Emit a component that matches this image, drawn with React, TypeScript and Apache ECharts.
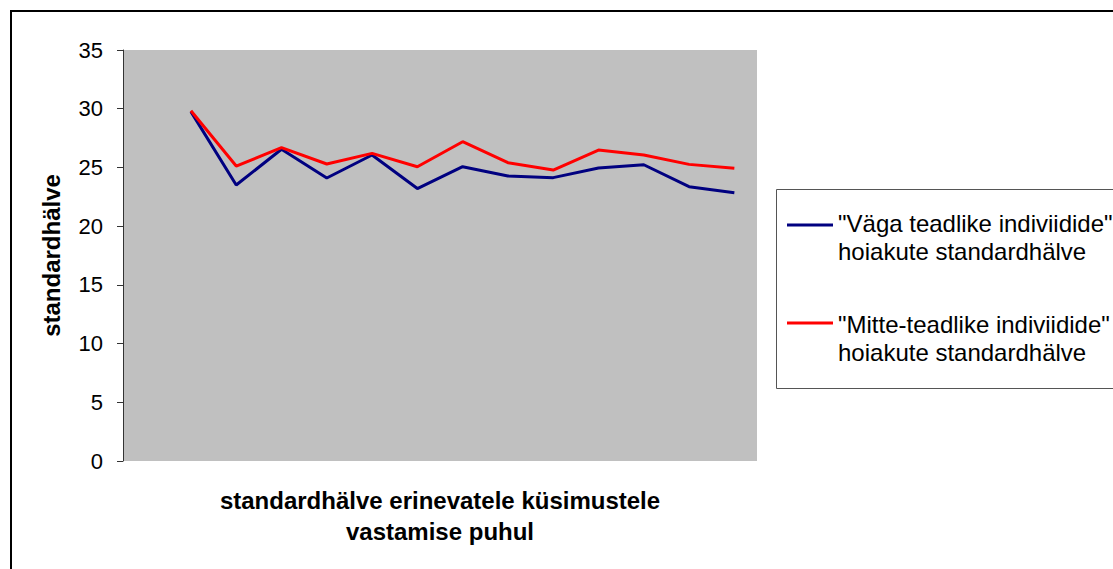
import React, { useEffect, useRef } from "react";
import * as echarts from "echarts";

const categories = ["", "1", "2", "3", "4", "5", "6", "7", "8", "9", "10", "11", "12", "13"];
const veryAwareSD = [null, 29.75, 23.5, 26.55, 24.1, 26.06, 23.2, 25.06, 24.27, 24.13, 24.95, 25.23, 23.36, 22.85];
const notAwareSD = [null, 29.83, 25.12, 26.68, 25.29, 26.2, 25.06, 27.19, 25.4, 24.78, 26.48, 26.06, 25.26, 24.92];
const seriesNames = [
  '"Väga teadlike indiviidide"\nhoiakute standardhälve',
  '"Mitte-teadlike indiviidide"\nhoiakute standardhälve',
];
const seriesColors = ["#000080", "#ff0000"];
const yAxisTitle = "standardhälve";
const xAxisTitle = "standardhälve erinevatele küsimustele\nvastamise puhul";

export default function App() {
  const ref = useRef<HTMLDivElement>(null);
  useEffect(() => {
    if (!ref.current) return;
    const chart = echarts.init(ref.current, null, { renderer: "svg" });
    const font = "Liberation Sans, Arial, sans-serif";
    const legendY = [223, 324];
    const lineY = [225, 323];
    const legendItems = seriesNames.map((name, i) => {
      const [l1, l2] = name.split("\n");
      const y0 = legendY[i];
      return [
        {
          type: "line",
          shape: { x1: 787, y1: lineY[i], x2: 833, y2: lineY[i] },
          style: { stroke: seriesColors[i], lineWidth: 3 },
        },
        {
          type: "text",
          x: 838,
          y: y0,
          style: { text: l1, font: `24px ${font}`, fill: "#000", verticalAlign: "middle" },
        },
        {
          type: "text",
          x: 838,
          y: y0 + 28,
          style: { text: l2, font: `24px ${font}`, fill: "#000", verticalAlign: "middle" },
        },
      ];
    }).flat();
    chart.setOption({
      animation: false,
      backgroundColor: "#fff",
      grid: { left: 123, top: 50, right: 356, bottom: 108, show: true, backgroundColor: "#c0c0c0", borderWidth: 0 },
      xAxis: {
        type: "category",
        data: categories,
        boundaryGap: true,
        axisLine: { show: false },
        axisTick: { show: false },
        axisLabel: { show: false },
        name: xAxisTitle,
        nameLocation: "middle",
        nameGap: 24,
        nameTextStyle: { fontFamily: font, fontSize: 24, fontWeight: "bold", color: "#000", lineHeight: 31 },
      },
      yAxis: {
        type: "value",
        min: 0,
        max: 35,
        interval: 5,
        splitLine: { show: false },
        axisLine: { show: true, lineStyle: { color: "#333", width: 1 } },
        axisTick: { show: true, length: 6, lineStyle: { color: "#333" } },
        axisLabel: { fontFamily: font, fontSize: 22, color: "#000", margin: 20 },
        name: yAxisTitle,
        nameLocation: "middle",
        nameRotate: 90,
        nameGap: 60,
        nameTextStyle: { fontFamily: font, fontSize: 24, fontWeight: "bold", color: "#000" },
      },
      series: [
        {
          type: "line",
          name: seriesNames[0],
          data: veryAwareSD,
          symbol: "none",
          lineStyle: { color: seriesColors[0], width: 3 },
          itemStyle: { color: seriesColors[0] },
        },
        {
          type: "line",
          name: seriesNames[1],
          data: notAwareSD,
          symbol: "none",
          lineStyle: { color: seriesColors[1], width: 3 },
          itemStyle: { color: seriesColors[1] },
        },
      ],
      graphic: [
        {
          type: "rect",
          shape: { x: 11, y: 11, width: 1150, height: 600 },
          style: { fill: "none", stroke: "#000", lineWidth: 2 },
          silent: true,
        },
        {
          type: "rect",
          shape: { x: 776.5, y: 189.5, width: 400, height: 199 },
          style: { fill: "#fff", stroke: "#555", lineWidth: 1 },
          silent: true,
        },
        ...legendItems,
      ],
    });
    return () => chart.dispose();
  }, []);
  return (
    <div
      ref={ref}
      style={{ position: "fixed", left: 0, top: 0, width: 1113, height: 569 }}
    />
  );
}
